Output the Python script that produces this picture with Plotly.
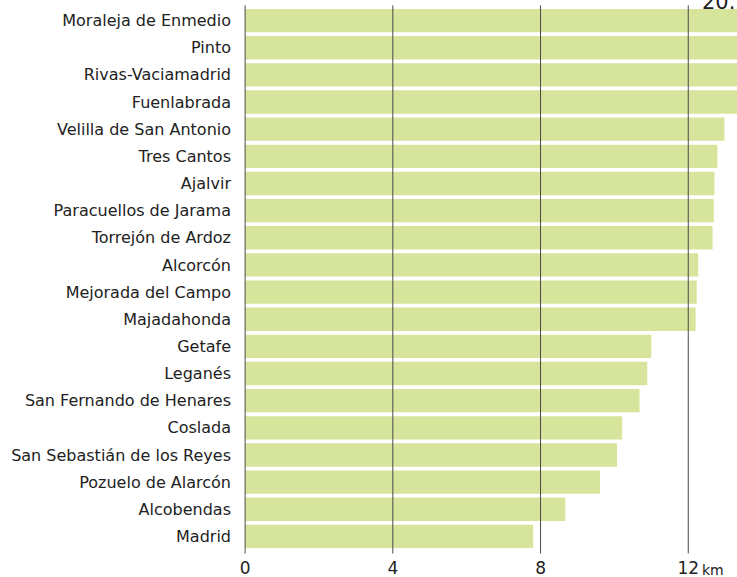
import plotly.graph_objects as go

municipios = [
    "Moraleja de Enmedio", "Pinto", "Rivas-Vaciamadrid", "Fuenlabrada",
    "Velilla de San Antonio", "Tres Cantos", "Ajalvir", "Paracuellos de Jarama",
    "Torrejón de Ardoz", "Alcorcón", "Mejorada del Campo", "Majadahonda",
    "Getafe", "Leganés", "San Fernando de Henares", "Coslada",
    "San Sebastián de los Reyes", "Pozuelo de Alarcón", "Alcobendas", "Madrid",
]
km = [
    15.8, 14.6, 14.1, 13.6,
    12.98, 12.79, 12.71, 12.69,
    12.66, 12.27, 12.23, 12.20,
    11.00, 10.89, 10.68, 10.21,
    10.07, 9.61, 8.67, 7.80,
]
tick_vals = [0, 4, 8, 12]
tick_text = ["0", "4", "8", "12"]
unit_label = "km"
corner_text = "20."

BAR = "#d6e59b"
FONT = "DejaVu Sans"

fig = go.Figure()
fig.add_trace(go.Bar(
    x=km, y=municipios, orientation="h",
    marker=dict(color=BAR, line=dict(width=0)),
    hoverinfo="skip",
))

for v in tick_vals:
    fig.add_shape(
        type="line", xref="x", yref="paper",
        x0=v, x1=v, y0=-0.0065, y1=1.003,
        line=dict(color="#4a4a4a", width=1),
        layer="above",
    )

fig.add_annotation(
    x=tick_vals[-1], y=0, xref="x", yref="paper",
    text=unit_label, showarrow=False,
    xanchor="left", yanchor="top",
    xshift=12, yshift=-10,
    font=dict(family=FONT, size=14, color="#222222"),
)

fig.add_annotation(
    x=(700 - 245) / 492, y=1.0099, xref="paper", yref="paper",
    text=corner_text, showarrow=False,
    xanchor="left", yanchor="middle",
    font=dict(family=FONT, size=21, color="#222222"),
)

fig.update_layout(
    width=737, height=577,
    margin=dict(l=244, r=0, t=7, b=27, pad=0),
    paper_bgcolor="white", plot_bgcolor="white",
    bargap=0.14,
    showlegend=False,
    font=dict(family=FONT, color="#222222"),
    xaxis=dict(
        range=[-0.03, 13.32], tickvals=tick_vals, ticktext=tick_text,
        showgrid=False, zeroline=False, showline=False, ticks="",
        tickfont=dict(family=FONT, size=17, color="#222222"),
        ticklabelstandoff=6, fixedrange=True,
    ),
    yaxis=dict(
        autorange="reversed", showgrid=False, zeroline=False,
        showline=False, ticks="",
        tickfont=dict(family=FONT, size=16, color="#222222"),
        ticklabelstandoff=12, fixedrange=True,
    ),
)

fig.write_html(
    "out.html",
    config={"displayModeBar": False},
    post_script="document.body.style.margin='0';document.body.style.overflow='hidden';document.documentElement.style.overflow='hidden';",
)
